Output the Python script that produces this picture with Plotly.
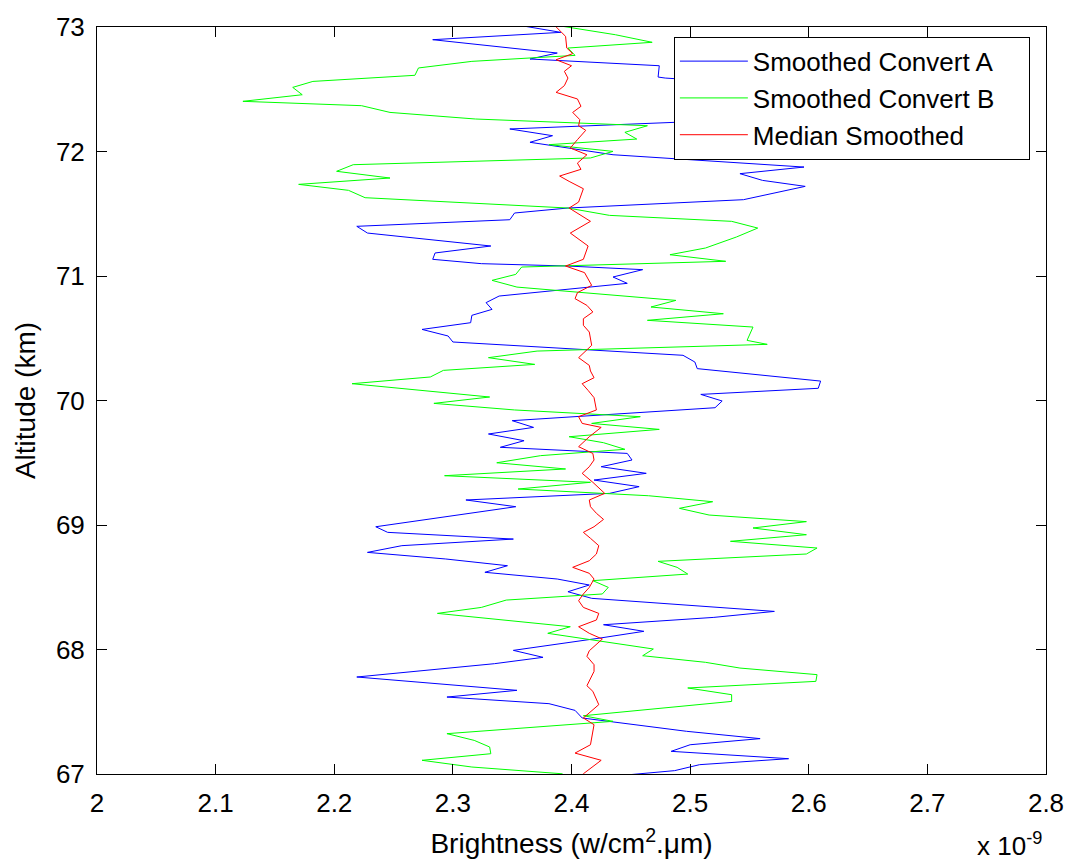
import plotly.graph_objects as go

# ---- Data (brightness in units of 1e-9 w/cm^2.um, altitude in km) ----
alt_a = [73.02, 72.957, 72.898, 72.791, 72.743, 72.689, 72.598, 72.59, 72.54, 72.49, 72.43, 72.38,
         72.33, 72.27, 72.181, 72.127, 72.074, 71.974, 71.875, 71.822, 71.768, 71.720, 71.613,
         71.546, 71.506, 71.452, 71.399, 71.345, 71.241, 71.185, 71.134, 71.099, 71.080, 71.051,
         70.992, 70.941, 70.839, 70.786, 70.732, 70.684, 70.625, 70.571, 70.518, 70.470, 70.363,
         70.309, 70.256, 70.156, 70.098, 70.049, 69.996, 69.942, 69.838, 69.784, 69.731, 69.677,
         69.624, 69.575, 69.522, 69.468, 69.415, 69.361, 69.308, 69.254, 69.201, 69.147, 68.986,
         68.941, 68.887, 68.834, 68.780, 68.727, 68.673, 68.620, 68.566, 68.518, 68.464, 68.411,
         68.306, 68.258, 68.199, 68.146, 68.092, 67.993, 67.937, 67.886, 67.779, 67.672, 67.618,
         67.565, 67.511, 67.450, 67.343, 67.284, 67.235, 67.182, 67.123, 67.075, 67.027, 66.968]
conv_a = [2.352, 2.391, 2.283, 2.388, 2.365, 2.474, 2.473, 2.479, 2.56, 2.60, 2.57, 2.59,
          2.62, 2.58, 2.348, 2.384, 2.365, 2.435, 2.596, 2.542, 2.561, 2.597, 2.545,
          2.397, 2.352, 2.348, 2.219, 2.228, 2.332, 2.285, 2.283, 2.324, 2.397, 2.460,
          2.435, 2.447, 2.339, 2.328, 2.333, 2.316, 2.315, 2.274, 2.296, 2.300, 2.494,
          2.504, 2.506, 2.610, 2.608, 2.509, 2.527, 2.521, 2.350, 2.368, 2.330, 2.360,
          2.340, 2.447, 2.451, 2.425, 2.463, 2.419, 2.457, 2.432, 2.311, 2.353, 2.235,
          2.245, 2.351, 2.257, 2.228, 2.294, 2.346, 2.327, 2.388, 2.415, 2.397, 2.417,
          2.571, 2.520, 2.427, 2.461, 2.424, 2.351, 2.376, 2.335, 2.219, 2.354, 2.295,
          2.381, 2.403, 2.409, 2.497, 2.559, 2.500, 2.484, 2.583, 2.508, 2.487, 2.418]

alt_b = [73.02, 72.938, 72.877, 72.831, 72.772, 72.724, 72.671, 72.612, 72.563, 72.515, 72.456,
         72.403, 72.368, 72.314, 72.261, 72.207, 72.154, 72.100, 72.055, 72.001, 71.948, 71.894,
         71.841, 71.787, 71.736, 71.688, 71.629, 71.546, 71.487, 71.439, 71.385, 71.313, 71.225,
         71.171, 71.118, 71.072, 71.013, 70.965, 70.911, 70.804, 70.751, 70.697, 70.644, 70.590,
         70.483, 70.451, 70.397, 70.344, 70.290, 70.242, 70.189, 70.135, 70.028, 69.977, 69.924,
         69.870, 69.816, 69.768, 69.709, 69.661, 69.608, 69.557, 69.500, 69.450, 69.396, 69.343,
         69.289, 69.235, 69.187, 69.134, 69.080, 69.027, 68.976, 68.922, 68.869, 68.815, 68.767,
         68.708, 68.660, 68.606, 68.553, 68.499, 68.446, 68.397, 68.338, 68.290, 68.183, 68.130,
         68.004, 67.950, 67.897, 67.851, 67.798, 67.744, 67.691, 67.637, 67.583, 67.468, 67.423,
         67.324, 67.270, 67.217, 67.163, 67.110, 67.056, 67.002, 66.968]
conv_b = [2.383, 2.437, 2.468, 2.397, 2.403, 2.316, 2.271, 2.268, 2.182, 2.165, 2.173,
          2.123, 2.223, 2.247, 2.319, 2.464, 2.445, 2.455, 2.381, 2.435, 2.416, 2.216,
          2.202, 2.247, 2.170, 2.212, 2.226, 2.397, 2.432, 2.535, 2.557, 2.539, 2.513,
          2.483, 2.530, 2.358, 2.353, 2.333, 2.354, 2.488, 2.467, 2.528, 2.464, 2.553,
          2.548, 2.565, 2.371, 2.330, 2.369, 2.292, 2.281, 2.215, 2.331, 2.284, 2.352,
          2.458, 2.417, 2.474, 2.398, 2.427, 2.445, 2.374, 2.337, 2.395, 2.293, 2.416,
          2.355, 2.465, 2.519, 2.491, 2.516, 2.598, 2.553, 2.598, 2.534, 2.607, 2.598,
          2.473, 2.489, 2.498, 2.418, 2.431, 2.426, 2.345, 2.324, 2.287, 2.399, 2.380,
          2.469, 2.460, 2.513, 2.542, 2.607, 2.606, 2.498, 2.535, 2.535, 2.410, 2.435,
          2.295, 2.318, 2.331, 2.332, 2.274, 2.316, 2.392, 2.397]

alt_m = [73.02, 72.925, 72.831, 72.786, 72.737, 72.689, 72.644, 72.590, 72.529, 72.475, 72.422,
         72.363, 72.314, 72.256, 72.207, 72.170, 72.095, 72.028, 71.974, 71.907, 71.857, 71.803,
         71.760, 71.701, 71.594, 71.546, 71.439, 71.345, 71.241, 71.134, 71.080, 71.027, 70.925,
         70.866, 70.818, 70.764, 70.711, 70.657, 70.604, 70.550, 70.443, 70.344, 70.282, 70.237,
         70.183, 70.135, 70.081, 70.023, 69.924, 69.870, 69.816, 69.784, 69.709, 69.629, 69.575,
         69.522, 69.468, 69.415, 69.343, 69.254, 69.201, 69.147, 69.094, 69.045, 68.986, 68.941,
         68.893, 68.834, 68.767, 68.713, 68.660, 68.612, 68.566, 68.499, 68.446, 68.392, 68.338,
         68.290, 68.237, 68.183, 68.130, 68.084, 67.990, 67.945, 67.878, 67.824, 67.709, 67.664,
         67.557, 67.450, 67.396, 67.235, 67.168, 67.110, 67.002, 66.968]
median = [2.385, 2.395, 2.396, 2.401, 2.387, 2.400, 2.394, 2.397, 2.394, 2.387, 2.405,
          2.408, 2.401, 2.407, 2.406, 2.412, 2.405, 2.399, 2.413, 2.405, 2.408, 2.390,
          2.398, 2.410, 2.406, 2.398, 2.416, 2.399, 2.414, 2.410, 2.395, 2.411, 2.417,
          2.405, 2.403, 2.413, 2.418, 2.410, 2.410, 2.415, 2.417, 2.406, 2.415, 2.416,
          2.419, 2.409, 2.414, 2.419, 2.421, 2.406, 2.409, 2.425, 2.415, 2.406, 2.418,
          2.419, 2.415, 2.409, 2.418, 2.428, 2.415, 2.416, 2.421, 2.427, 2.419, 2.410,
          2.416, 2.423, 2.421, 2.415, 2.401, 2.415, 2.419, 2.415, 2.410, 2.406, 2.410,
          2.423, 2.421, 2.406, 2.415, 2.426, 2.415, 2.413, 2.419, 2.419, 2.413, 2.418,
          2.423, 2.410, 2.419, 2.416, 2.403, 2.425, 2.410, 2.410]

series_names = ["Smoothed Convert A", "Smoothed Convert B", "Median Smoothed"]
x_ticks = [2.0, 2.1, 2.2, 2.3, 2.4, 2.5, 2.6, 2.7, 2.8]
x_tick_labels = ["2", "2.1", "2.2", "2.3", "2.4", "2.5", "2.6", "2.7", "2.8"]
y_ticks = [67, 68, 69, 70, 71, 72, 73]

FONT = "Liberation Sans, Arial, sans-serif"
PAD = "\u00a0" * 4  # right padding inside the legend box

fig = go.Figure()
fig.add_trace(go.Scatter(x=conv_a, y=alt_a, mode="lines", name=series_names[0] + PAD,
                         line=dict(color="#0000FF", width=1)))
fig.add_trace(go.Scatter(x=conv_b, y=alt_b, mode="lines", name=series_names[1] + PAD,
                         line=dict(color="#00FF00", width=1)))
fig.add_trace(go.Scatter(x=median, y=alt_m, mode="lines", name=series_names[2] + PAD,
                         line=dict(color="#FF0000", width=1)))

axis_common = dict(showline=True, linecolor="black", linewidth=1, mirror="ticks",
                   ticks="inside", ticklen=10, tickcolor="black", showgrid=False,
                   zeroline=False, automargin=False,
                   tickfont=dict(family=FONT, size=26, color="black"))

fig.update_layout(
    width=1071, height=865,
    margin=dict(l=97, r=25, t=27, b=91),
    paper_bgcolor="white", plot_bgcolor="white",
    font=dict(family=FONT, size=26, color="black"),
    xaxis=dict(range=[2.0, 2.8], tickvals=x_ticks, ticktext=x_tick_labels,
               ticklabelstandoff=6,
               title=dict(text="Brightness (w/cm<sup>2</sup>.\u03bcm)",
                          font=dict(family=FONT, size=28), standoff=16),
               **axis_common),
    yaxis=dict(range=[67, 73], tickvals=y_ticks, ticklabelstandoff=6,
               title=dict(text="Altitude (km)", font=dict(family=FONT, size=28), standoff=12),
               **axis_common),
    legend=dict(x=0.983, y=0.987, xanchor="right", yanchor="top",
                bgcolor="white", bordercolor="black", borderwidth=1,
                itemwidth=68,
                font=dict(family=FONT, size=26), tracegroupgap=0),
    showlegend=True,
)
fig.add_annotation(text="x 10<sup>-9</sup>", xref="paper", yref="paper",
                   x=0.9975, y=-0.094, xanchor="right", yanchor="middle", showarrow=False,
                   font=dict(family=FONT, size=26, color="black"))

fig.write_html("out.html")
